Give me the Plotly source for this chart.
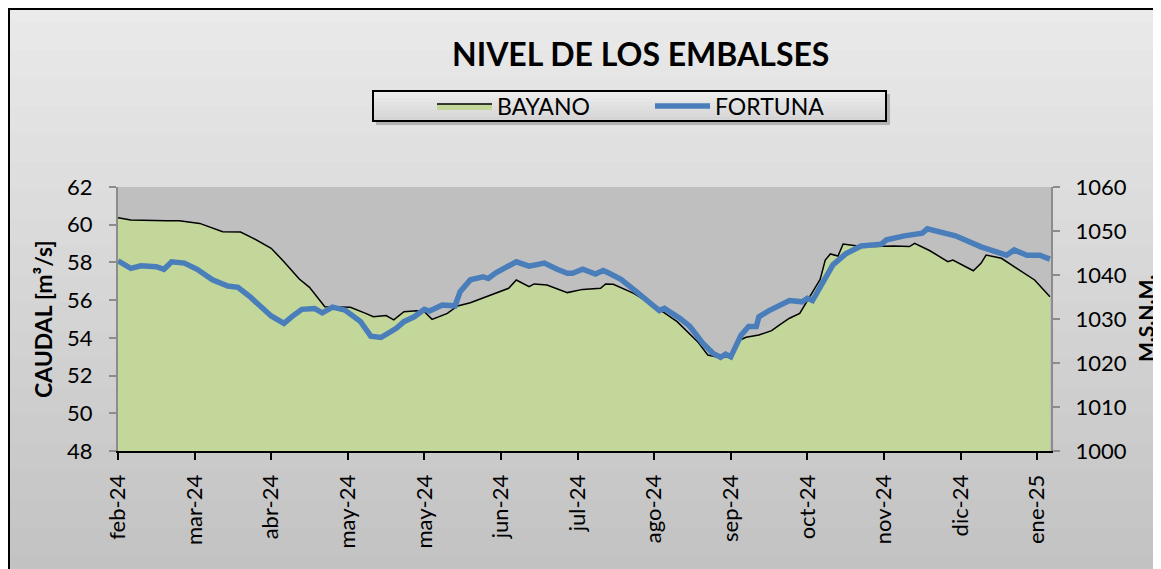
import pandas as pd
import plotly.graph_objects as go

# ---------------- data ----------------
START = "2024-02-01"

BAYANO_DAY = [0, 5, 19, 24, 32, 39, 41, 48, 53, 60, 65, 71, 75, 81, 91, 97, 100, 105, 108,
              112, 117, 120, 123, 129, 133, 138, 144, 148, 153, 156, 161, 163, 168, 176, 182,
              189, 191, 194, 202, 210, 219, 227, 231, 235, 240, 243, 246, 251, 256, 259, 263,
              267, 269, 272, 275, 277, 279, 282, 284, 289, 296, 304, 310, 312, 318, 325, 327,
              335, 338, 340, 346, 352, 359, 365]
BAYANO_LEVEL = [60.37, 60.25, 60.21, 60.21, 60.07, 59.72, 59.63, 59.61, 59.28, 58.75, 58.04,
                57.12, 56.68, 55.65, 55.62, 55.30, 55.12, 55.18, 54.95, 55.39, 55.44, 55.39,
                54.98, 55.30, 55.69, 55.86, 56.18, 56.40, 56.63, 57.07, 56.71, 56.86, 56.80,
                56.40, 56.57, 56.63, 56.86, 56.84, 56.36, 55.69, 54.86, 53.80, 53.09, 52.97,
                53.00, 53.85, 54.03, 54.15, 54.38, 54.68, 55.04, 55.30, 55.74, 56.40, 57.10,
                58.13, 58.45, 58.34, 58.98, 58.89, 58.84, 58.87, 58.84, 59.01, 58.62, 58.04,
                58.13, 57.56, 57.95, 58.39, 58.22, 57.69, 57.07, 56.18]

FORTUNA_DAY = [0, 5, 9, 15, 18, 21, 26, 31, 37, 43, 47, 52, 60, 65, 68, 72, 77, 80, 84, 89,
               95, 99, 103, 109, 112, 116, 120, 122, 127, 132, 134, 138, 143, 145, 148, 152,
               156, 161, 167, 172, 176, 178, 182, 187, 190, 192, 197, 203, 212, 214, 220, 224,
               229, 233, 236, 238, 240, 244, 247, 250, 251, 255, 258, 263, 268, 270, 272, 276,
               280, 285, 291, 299, 301, 308, 313, 315, 317, 323, 328, 338, 343, 348, 351, 356,
               361, 365]
FORTUNA_LEVEL = [1043.2, 1041.5, 1042.1, 1041.9, 1041.3, 1043.0, 1042.7, 1041.3, 1038.9,
                 1037.5, 1037.2, 1034.9, 1030.7, 1029.0, 1030.5, 1032.2, 1032.4, 1031.4,
                 1032.7, 1032.0, 1029.4, 1026.1, 1025.8, 1027.9, 1029.4, 1030.5, 1032.2,
                 1031.8, 1033.2, 1033.0, 1036.2, 1038.9, 1039.6, 1039.2, 1040.5, 1041.7,
                 1043.0, 1042.0, 1042.7, 1041.3, 1040.4, 1040.4, 1041.3, 1040.2, 1041.0,
                 1040.5, 1039.0, 1036.2, 1031.9, 1032.4, 1030.2, 1028.3, 1024.5, 1022.2,
                 1021.3, 1022.0, 1021.4, 1026.3, 1028.3, 1028.3, 1030.5, 1031.9, 1032.8,
                 1034.2, 1033.9, 1034.7, 1034.2, 1038.5, 1042.3, 1044.8, 1046.6, 1047.0,
                 1048.0, 1048.9, 1049.5, 1049.5, 1050.5, 1049.6, 1048.9, 1046.4, 1045.5,
                 1044.5, 1045.7, 1044.5, 1044.5, 1043.6]

TICK_DATES = ["2024-02-01", "2024-03-02", "2024-04-01", "2024-05-01", "2024-05-31",
              "2024-06-30", "2024-07-30", "2024-08-29", "2024-09-28", "2024-10-28",
              "2024-11-27", "2024-12-27", "2025-01-26"]
TICK_LABELS = ["feb-24", "mar-24", "abr-24", "may-24", "may-24", "jun-24", "jul-24",
               "ago-24", "sep-24", "oct-24", "nov-24", "dic-24", "ene-25"]

bayano_x = pd.Timestamp(START) + pd.to_timedelta(BAYANO_DAY, unit="D")
fortuna_x = pd.Timestamp(START) + pd.to_timedelta(FORTUNA_DAY, unit="D")

# ---------------- layout geometry ----------------
# page body has an 8px margin; figure is sized to fit in the window
OFF = 8
W, H = 1161 - OFF, 569 - OFF
PLOT_L, PLOT_R, PLOT_T, PLOT_B = 118, 1051, 187, 451   # in window pixels
ML = PLOT_L - OFF
MT = PLOT_T - OFF
MR = W - (PLOT_R - OFF)
MB = H - (PLOT_B - OFF)
PW, PH = W - ML - MR, H - MT - MB


def px_x(px):
    """window pixel -> paper x"""
    return (px - OFF - ML) / PW


def px_y(py):
    """window pixel -> paper y"""
    return (H - MB - (py - OFF)) / PH


FONT = "Lato, 'Open Sans', sans-serif"

fig = go.Figure()
fig.add_trace(go.Scatter(
    x=bayano_x, y=BAYANO_LEVEL, name="BAYANO", mode="lines",
    line=dict(color="black", width=1.5), fill="tozeroy", fillcolor="#c4d79b",
    yaxis="y"))
fig.add_trace(go.Scatter(
    x=fortuna_x, y=FORTUNA_LEVEL, name="FORTUNA", mode="lines",
    line=dict(color="#4a7ebb", width=5.5), yaxis="y2"))

shapes = []
# background vertical gradient
N = 40
top, bot = OFF, 569
c0, c1 = 234, 194
for i in range(N):
    y0 = top + (bot - top) * i / N
    y1 = top + (bot - top) * (i + 1) / N + 1
    c = round(c0 + (c1 - c0) * (i + 0.5) / N)
    shapes.append(dict(type="rect", xref="paper", yref="paper", layer="below",
                       x0=px_x(OFF - 2), x1=px_x(1175), y0=px_y(y1), y1=px_y(y0),
                       line=dict(width=0), fillcolor=f"rgb({c},{c},{c})"))
# plot area background
shapes.append(dict(type="rect", xref="paper", yref="paper", layer="below",
                   x0=0, x1=1, y0=0, y1=1, line=dict(width=0), fillcolor="#bfbfbf"))
# outer border
shapes.append(dict(type="rect", xref="paper", yref="paper", layer="above",
                   x0=px_x(OFF + 1), x1=px_x(1190), y0=px_y(600), y1=px_y(OFF + 1),
                   line=dict(color="black", width=2), fillcolor="rgba(0,0,0,0)"))
# legend box with shadow and gradient
shapes.append(dict(type="rect", xref="paper", yref="paper", layer="below",
                   x0=px_x(376), x1=px_x(890), y0=px_y(125), y1=px_y(94),
                   line=dict(width=0), fillcolor="rgba(120,120,120,0.45)"))
LB = (373, 886, 91, 121)
NL = 8
for i in range(NL):
    y0 = LB[2] + (LB[3] - LB[2]) * i / NL
    y1 = LB[2] + (LB[3] - LB[2]) * (i + 1) / NL + 0.5
    c = round(238 + (212 - 238) * (i + 0.5) / NL)
    shapes.append(dict(type="rect", xref="paper", yref="paper", layer="below",
                       x0=px_x(LB[0]), x1=px_x(LB[1]), y0=px_y(y1), y1=px_y(y0),
                       line=dict(width=0), fillcolor=f"rgb({c},{c},{c})"))
shapes.append(dict(type="rect", xref="paper", yref="paper", layer="below",
                   x0=px_x(LB[0]), x1=px_x(LB[1]), y0=px_y(LB[3]), y1=px_y(LB[2]),
                   line=dict(color="black", width=2), fillcolor="rgba(0,0,0,0)"))

annotations = [
    dict(text="<b>NIVEL DE LOS EMBALSES</b>", xref="paper", yref="paper",
         x=px_x(640.5), y=px_y(54), xanchor="center", yanchor="middle", showarrow=False,
         font=dict(family=FONT, size=32, color="black")),
    dict(text="<b>CAUDAL [m³/s]</b>", xref="paper", yref="paper",
         x=px_x(43), y=0.5, xanchor="center", yanchor="middle", showarrow=False,
         textangle=-90, font=dict(family=FONT, size=23, color="black")),
    dict(text="<b>M.S.N.M.</b>", xref="paper", yref="paper",
         x=px_x(1145), y=0.5, xanchor="center", yanchor="middle", showarrow=False,
         textangle=-90, font=dict(family=FONT, size=21, color="black")),
]

fig.update_layout(
    width=W, height=H,
    margin=dict(l=ML, r=MR, t=MT, b=MB, pad=0),
    paper_bgcolor="#dcdcdc", plot_bgcolor="#bfbfbf",
    font=dict(family=FONT, size=22, color="black"),
    showlegend=True,
    legend=dict(orientation="h", x=px_x(432), y=px_y(106), xanchor="left", yanchor="middle",
                bgcolor="rgba(0,0,0,0)", borderwidth=0, entrywidth=148,
                entrywidthmode="pixels", itemwidth=55,
                font=dict(family=FONT, size=23, color="black"), traceorder="normal"),
    xaxis=dict(type="date", range=["2024-02-01", "2025-01-31 10:00"],
               tickvals=TICK_DATES, ticktext=TICK_LABELS, tickangle=-90,
               ticks="outside", ticklen=7, tickwidth=2, tickcolor="black",
               showline=True, linecolor="black", linewidth=2, showgrid=False,
               zeroline=False, ticklabelstandoff=6,
               tickfont=dict(family=FONT, size=22, color="black")),
    yaxis=dict(range=[48, 62], dtick=2, tick0=48, ticks="outside", ticklen=7,
               tickwidth=2, tickcolor="#8c8c8c", showline=True, linecolor="#8c8c8c",
               linewidth=2, showgrid=False, zeroline=False, ticklabelstandoff=12,
               tickfont=dict(family=FONT, size=22, color="black")),
    yaxis2=dict(range=[1000, 1060], dtick=10, tick0=1000, overlaying="y", side="right",
                ticks="outside", ticklen=7, tickwidth=2, tickcolor="#8c8c8c",
                showline=True, linecolor="#8c8c8c", linewidth=2, showgrid=False,
                zeroline=False, ticklabelstandoff=11,
                tickfont=dict(family=FONT, size=22, color="black")),
    shapes=shapes,
    annotations=annotations,
)

fig.write_html("out.html")
